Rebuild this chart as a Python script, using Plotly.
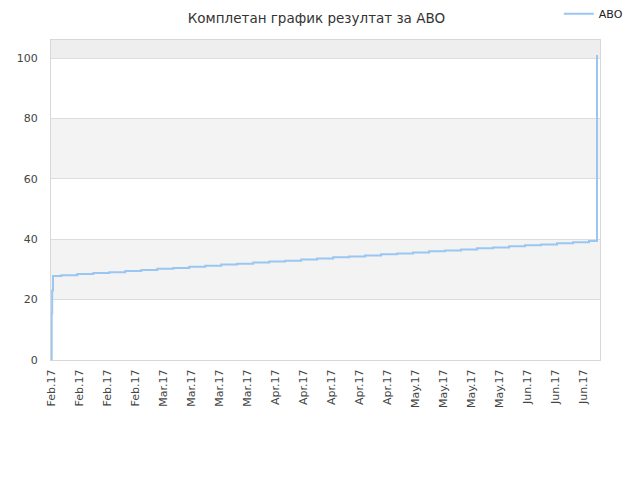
import plotly.graph_objects as go

title_text = "Комплетан график резултат за ABO"
series_name = "ABO"

# initial rise on first day, then 4-daily steps, then final jump
dates = [
    "2017-02-05 00:00", "2017-02-05 02:00", "2017-02-05 05:00", "2017-02-05 10:00",
    "2017-02-07 12:00", "2017-02-11 12:00", "2017-02-15 12:00", "2017-02-19 12:00",
    "2017-02-23 12:00", "2017-02-27 12:00", "2017-03-03 12:00", "2017-03-07 12:00",
    "2017-03-11 12:00", "2017-03-15 12:00", "2017-03-19 12:00", "2017-03-23 12:00",
    "2017-03-27 12:00", "2017-03-31 12:00", "2017-04-04 12:00", "2017-04-08 12:00",
    "2017-04-12 12:00", "2017-04-16 12:00", "2017-04-20 12:00", "2017-04-24 12:00",
    "2017-04-28 12:00", "2017-05-02 12:00", "2017-05-06 12:00", "2017-05-10 12:00",
    "2017-05-14 12:00", "2017-05-18 12:00", "2017-05-22 12:00", "2017-05-26 12:00",
    "2017-05-30 12:00", "2017-06-03 12:00", "2017-06-07 12:00", "2017-06-11 12:00",
    "2017-06-15 12:00", "2017-06-19 12:00", "2017-06-21 12:00",
]
values = [
    0, 15.5, 23.0, 27.8,
    28.1, 28.5, 28.8, 29.1,
    29.5, 29.8, 30.2, 30.5,
    30.9, 31.2, 31.6, 31.9,
    32.3, 32.6, 32.9, 33.3,
    33.6, 34.0, 34.3, 34.6,
    35.0, 35.3, 35.6, 36.0,
    36.3, 36.6, 37.0, 37.3,
    37.7, 38.0, 38.3, 38.7,
    39.0, 39.4, 101.0,
]

tick_dates = [
    "2017-02-05", "2017-02-12", "2017-02-19", "2017-02-26",
    "2017-03-05", "2017-03-12", "2017-03-19", "2017-03-26",
    "2017-04-02", "2017-04-09", "2017-04-16", "2017-04-23", "2017-04-30",
    "2017-05-07", "2017-05-14", "2017-05-21", "2017-05-28",
    "2017-06-04", "2017-06-11", "2017-06-18",
]
tick_labels = [
    "Feb.17", "Feb.17", "Feb.17", "Feb.17",
    "Mar.17", "Mar.17", "Mar.17", "Mar.17",
    "Apr.17", "Apr.17", "Apr.17", "Apr.17", "Apr.17",
    "May.17", "May.17", "May.17", "May.17",
    "Jun.17", "Jun.17", "Jun.17",
]
y_ticks = [0, 20, 40, 60, 80, 100]
bands = [(20, 40, "#f3f3f3"), (60, 80, "#f3f3f3"), (100, 106, "#eeeeee")]

line_color = "#99c6f2"
font_family = "DejaVu Sans"

fig = go.Figure()
fig.add_trace(go.Scatter(
    x=dates, y=values, mode="lines", name=series_name,
    line=dict(color=line_color, width=2, shape="hv"),
))

for y0, y1, c in bands:
    fig.add_shape(type="rect", xref="paper", yref="y", x0=0, x1=1, y0=y0, y1=y1,
                  fillcolor=c, line=dict(width=0), layer="below")

# page body has an 8px margin, so the figure is sized/offset to compensate
fig.update_layout(
    width=632, height=472,
    margin=dict(l=43, r=40, t=32, b=120, autoexpand=False),
    paper_bgcolor="white", plot_bgcolor="white",
    font=dict(family=font_family, size=11, color="#444444"),
    title=dict(text=title_text, x=0.488, xanchor="center", y=0.988, yanchor="top",
               font=dict(family=font_family, size=13.5, color="#333333")),
    showlegend=True,
    legend=dict(x=0.925, xanchor="left", y=1.127, yanchor="top",
                font=dict(family=font_family, size=11, color="#222222"),
                bgcolor="rgba(0,0,0,0)", itemwidth=30),
    xaxis=dict(
        type="date",
        range=["2017-02-04 22:00", "2017-06-22 06:00"],
        tickmode="array", tickvals=tick_dates, ticktext=tick_labels,
        tickangle=-90, ticks="", showgrid=False, zeroline=False,
        showline=True, mirror=True, linecolor="#d8d8d8", linewidth=1,
        tickfont=dict(size=11, color="#444444"), ticklabelstandoff=4,
    ),
    yaxis=dict(
        range=[0, 106], tickvals=y_ticks, ticks="",
        showgrid=True, gridcolor="#dddddd", gridwidth=1, zeroline=False,
        showline=True, mirror=True, linecolor="#d8d8d8", linewidth=1,
        tickfont=dict(size=11, color="#444444"), ticklabelstandoff=10,
    ),
)

fig.write_html("out.html")
